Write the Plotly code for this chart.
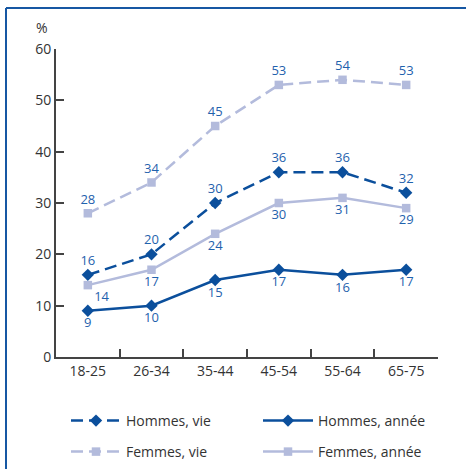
import plotly.graph_objects as go

# Age groups and percentages
age_groups = ["18-25", "26-34", "35-44", "45-54", "55-64", "65-75"]
hommes_vie = [16, 20, 30, 36, 36, 32]
hommes_annee = [9, 10, 15, 17, 16, 17]
femmes_vie = [28, 34, 45, 53, 54, 53]
femmes_annee = [14, 17, 24, 30, 31, 29]

DARK = "#0b4f9c"
LIGHT = "#b3bbdc"
LABEL = "#1f62ad"
AXIS = "#444444"
TEXT = "#333333"
FONT = "Open Sans"
DASH = "12px,6px"

W, H = 466, 469
ML, MR, MT, MB = 56, 28, 49, 112
PW, PH = W - ML - MR, H - MT - MB

fig = go.Figure()


def add_series(name, values, color, dash, symbol, msize, positions, legend):
    fig.add_trace(go.Scatter(
        x=age_groups, y=values, name=name, legend=legend,
        mode="lines+markers+text",
        line=dict(color=color, width=2.5, dash=dash),
        marker=dict(symbol=symbol, size=msize, color=color),
        text=[str(v) for v in values],
        textposition=positions,
        textfont=dict(family=FONT, size=13, color=LABEL),
        cliponaxis=False,
    ))


add_series("Hommes, vie", hommes_vie, DARK, DASH, "diamond", 9.5,
           ["top center"] * 6, "legend")
add_series("Hommes, année", hommes_annee, DARK, "solid", "diamond", 9.5,
           ["bottom center"] * 6, "legend2")
add_series("Femmes, vie", femmes_vie, LIGHT, DASH, "square", 8.5,
           ["top center"] * 6, "legend3")
add_series("Femmes, année", femmes_annee, LIGHT, "solid", "square", 8.5,
           ["bottom right"] + ["bottom center"] * 5, "legend4")


def px_x(px):
    return (px - ML) / PW


def px_y(px):
    return (H - MB - px) / PH


def legend_box(x, y):
    return dict(
        xref="paper", yref="container",
        x=px_x(x), y=1 - y / H,
        xanchor="left", yanchor="middle", orientation="v",
        font=dict(family=FONT, size=14, color=TEXT),
        itemwidth=50, bgcolor="rgba(0,0,0,0)",
    )


fig.update_layout(
    width=W, height=H,
    margin=dict(l=ML, r=MR, t=MT, b=MB),
    paper_bgcolor="white", plot_bgcolor="white",
    font=dict(family=FONT, size=14, color=TEXT),
    showlegend=True,
    legend=legend_box(66, 421),
    legend2=legend_box(258, 421),
    legend3=legend_box(66, 452),
    legend4=legend_box(258, 452),
    xaxis=dict(
        type="category", range=[-0.5, 5.5],
        tickson="boundaries", ticks="inside", ticklen=8, tickwidth=1.5,
        tickcolor=AXIS, showline=True, linecolor=AXIS, linewidth=2,
        showgrid=False, zeroline=False,
        tickfont=dict(family=FONT, size=14, color=TEXT),
    ),
    yaxis=dict(
        range=[0, 60], dtick=10, ticks="inside", ticklen=8, tickwidth=1.5,
        tickcolor=AXIS, showline=True, linecolor=AXIS, linewidth=2,
        showgrid=False, zeroline=False,
        tickfont=dict(family=FONT, size=14, color=TEXT),
    ),
    annotations=[dict(
        text="%", xref="paper", yref="paper", x=px_x(42), y=px_y(27),
        xanchor="center", yanchor="middle", showarrow=False,
        font=dict(family=FONT, size=14, color=TEXT),
    )],
    shapes=[
        # frame: top and left edges
        dict(type="line", xref="paper", yref="paper",
             x0=px_x(6), x1=px_x(470), y0=px_y(8), y1=px_y(8),
             line=dict(color="#1657a3", width=2)),
        dict(type="line", xref="paper", yref="paper",
             x0=px_x(6), x1=px_x(6), y0=px_y(8), y1=px_y(475),
             line=dict(color="#1657a3", width=2)),
    ],
)

fig.write_html("out.html")
